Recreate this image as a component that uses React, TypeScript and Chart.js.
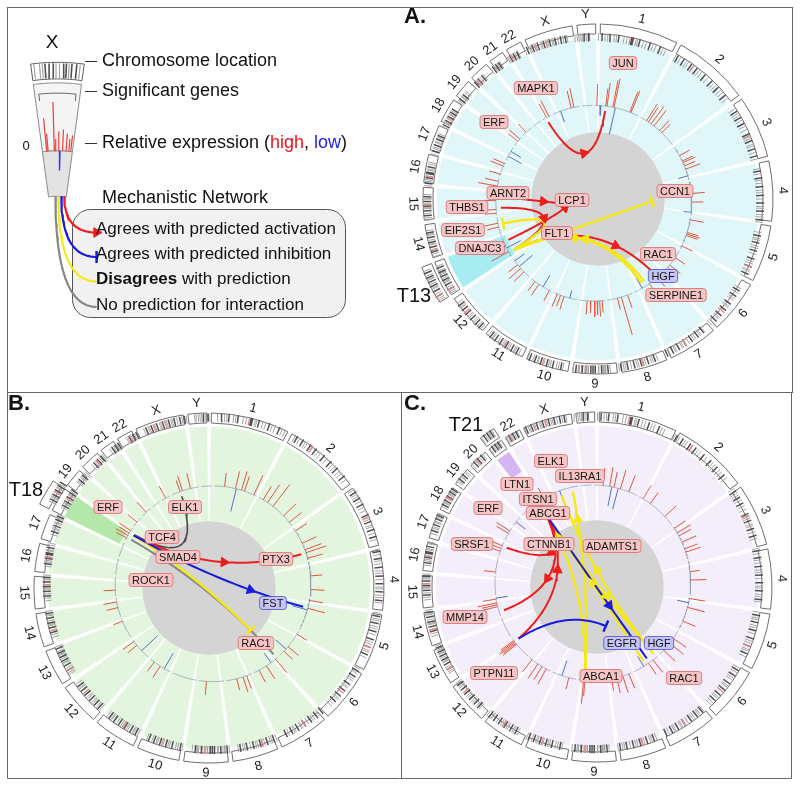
import React, { useEffect, useRef } from "react";
import { Chart, registerables } from "chart.js";

Chart.register(...registerables);

/* ======================= DATA ======================= */
const CHROMOSOMES = ["1","2","3","4","5","6","7","8","9","10","11","12","13","14","15","16","17","18","19","20","21","22","X","Y"];
const CHROM_LENGTHS = [249,243,198,191,181,171,159,146,141,136,135,134,115,107,103,90,81,78,59,63,48,51,155,59];
const CHROM_GAP = 15;

const DARK_BANDS: number[][] = [
  [0.08,0.18,0.3,0.47,0.49,0.58,0.72,0.86],
  [0.06,0.15,0.27,0.36,0.5,0.62,0.74,0.88],
  [0.1,0.22,0.33,0.52,0.64,0.78,0.9],
  [0.08,0.2,0.35,0.5,0.63,0.77,0.92],
  [0.12,0.25,0.4,0.55,0.7,0.84],
  [0.1,0.22,0.4,0.55,0.68,0.82],
  [0.06,0.2,0.35,0.5,0.66,0.8,0.93],
  [0.12,0.28,0.44,0.6,0.75,0.9],
  [0.1,0.25,0.4,0.45,0.5,0.7,0.85],
  [0.1,0.3,0.45,0.6,0.75,0.88],
  [0.12,0.26,0.42,0.58,0.72,0.86],
  [0.1,0.22,0.38,0.55,0.68,0.82],
  [0.2,0.35,0.5,0.62,0.75,0.88],
  [0.25,0.4,0.55,0.7,0.85],
  [0.25,0.4,0.55,0.7,0.85],
  [0.15,0.35,0.5,0.55,0.75],
  [0.2,0.45,0.7,0.85],
  [0.15,0.35,0.55,0.75,0.9],
  [0.3,0.6],
  [0.25,0.5,0.75],
  [0.3,0.55,0.8],
  [0.35,0.6,0.85],
  [0.08,0.2,0.32,0.45,0.58,0.7,0.82,0.92],
  [0.6,0.85],
];
const GRAY_BANDS: number[][] = [
  [0.03,0.12,0.15,0.24,0.27,0.37,0.41,0.53,0.55,0.63,0.67,0.76,0.8,0.9,0.94],
  [0.03,0.1,0.19,0.22,0.31,0.4,0.44,0.55,0.66,0.7,0.79,0.83,0.93],
  [0.05,0.14,0.18,0.27,0.38,0.44,0.57,0.6,0.7,0.73,0.84,0.95],
  [0.04,0.13,0.24,0.29,0.41,0.45,0.56,0.69,0.72,0.83,0.87,0.96],
  [0.06,0.17,0.2,0.31,0.35,0.46,0.6,0.64,0.76,0.79,0.9],
  [0.05,0.15,0.27,0.31,0.45,0.48,0.6,0.73,0.76,0.88,0.93],
  [0.03,0.12,0.15,0.26,0.3,0.42,0.56,0.59,0.72,0.75,0.87],
  [0.06,0.17,0.21,0.34,0.38,0.5,0.54,0.67,0.8,0.84,0.95],
  [0.05,0.16,0.2,0.32,0.56,0.6,0.64,0.77,0.8,0.92],
  [0.05,0.16,0.21,0.36,0.4,0.52,0.66,0.69,0.8,0.93],
  [0.06,0.17,0.2,0.33,0.37,0.48,0.52,0.64,0.78,0.81,0.92],
  [0.05,0.15,0.27,0.31,0.44,0.48,0.6,0.74,0.77,0.89],
  [0.08,0.13,0.27,0.42,0.45,0.56,0.68,0.71,0.8,0.94],
  [0.1,0.18,0.32,0.47,0.5,0.62,0.77,0.8,0.92],
  [0.1,0.18,0.32,0.47,0.5,0.62,0.77,0.8,0.92],
  [0.06,0.22,0.28,0.42,0.63,0.67,0.85,0.92],
  [0.08,0.3,0.36,0.55,0.6,0.78,0.93],
  [0.06,0.24,0.28,0.45,0.64,0.68,0.82],
  [0.12,0.2,0.45,0.5,0.75,0.85],
  [0.1,0.35,0.4,0.62,0.85],
  [0.12,0.42,0.65,0.7,0.9],
  [0.15,0.25,0.48,0.72,0.93],
  [0.03,0.13,0.16,0.25,0.28,0.38,0.41,0.51,0.54,0.63,0.66,0.76,0.87,0.96],
  [0.1,0.2,0.3,0.4,0.5,0.7,0.8,0.9],
];
const MARK_BANDS: number[][] = [
  [0.45],[0.3],[0.55],[],[0.7],[0.6],[0.5],[0.4],[0.62],[0.55],[0.45],[0.6],
  [0.2],[0.3],[0.6],[0.4],[],[0.5],[],[0.45],[],[0.4],[0.25,0.5],[],
];

const GENE_LOCI: Record<string, [string, number]> = {
  JUN: ["1", 0.24], MAPK1: ["22", 0.43], ERF: ["19", 0.72], ARNT2: ["15", 0.78], LCP1: ["13", 0.4],
  CCN1: ["1", 0.34], THBS1: ["15", 0.38], EIF2S1: ["14", 0.63], FLT1: ["13", 0.25], DNAJC3: ["13", 0.83],
  RAC1: ["7", 0.04], HGF: ["7", 0.51], SERPINE1: ["7", 0.63], ELK1: ["X", 0.31], TCF4: ["18", 0.68],
  SMAD4: ["18", 0.62], ROCK1: ["18", 0.24], PTX3: ["3", 0.79], FST: ["5", 0.29], IL13RA1: ["X", 0.76],
  LTN1: ["21", 0.62], ITSN1: ["21", 0.73], ABCG1: ["21", 0.91], ADAMTS1: ["21", 0.59], SRSF1: ["17", 0.69],
  CTNNB1: ["3", 0.21], MMP14: ["14", 0.22], PTPN11: ["12", 0.84], EGFR: ["7", 0.35], ABCA1: ["9", 0.76],
};
const LOW_GENES = ["HGF", "FST", "EGFR"];

type Bar = [string, number, number];
const BARS_A: Bar[] = [
  ["1",0.04,0.55],["1",0.24,0.45],["1",0.27,0.6],["1",0.4,0.7],["1",0.43,0.75],["1",0.8,0.55],["1",0.83,0.6],["1",0.13,-0.25],["1",0.46,-0.7],
  ["2",0.17,0.5],["2",0.22,0.45],["2",0.3,0.55],["2",0.38,0.5],["2",0.55,0.35],["2",0.62,0.3],
  ["3",0.28,0.3],["3",0.45,0.3],["3",0.5,0.35],["3",0.6,0.3],["3",0.7,0.4],["3",0.9,-0.25],
  ["4",0.35,0.35],["4",0.6,0.3],["4",0.9,-0.2],
  ["5",0.05,0.35],["5",0.45,0.3],["5",0.5,0.35],["5",0.55,0.3],["5",0.9,0.3],
  ["6",0.25,0.3],["6",0.55,0.35],["6",0.65,0.3],["6",0.9,0.35],
  ["7",0.05,0.3],["7",0.4,0.35],["7",0.7,-0.3],
  ["8",0.2,0.35],["8",0.45,1.0],["8",0.6,0.3],
  ["9",0.1,0.3],["9",0.2,0.4],["9",0.3,0.35],["9",0.4,0.4],["9",0.55,0.3],["9",0.7,0.35],
  ["10",0.55,0.35],["10",0.7,0.3],["10",0.85,0.35],["10",0.3,-0.2],
  ["11",0.1,0.3],["11",0.6,0.35],["11",0.8,0.3],["11",0.4,-0.35],
  ["12",0.3,0.35],["12",0.5,0.4],["12",0.7,0.3],["12",0.6,-0.45],["12",0.9,-0.3],
  ["13",0.3,0.5],["13",0.6,0.45],["13",0.8,0.75],["13",0.85,0.6],["13",0.5,-0.4],
  ["14",0.5,0.3],["14",0.7,0.35],
  ["15",0.1,0.3],["15",0.3,1.0],["15",0.78,0.3],
  ["16",0.5,0.5],["16",0.8,0.35],
  ["17",0.1,0.3],["17",0.7,0.35],["17",0.9,0.3],
  ["18",0.3,-0.4],["18",0.7,-0.3],
  ["19",0.5,0.3],["19",0.8,0.35],
  ["20",0.4,0.3],
  ["22",0.5,0.4],["22",0.8,0.45],
  ["X",0.7,0.45],["X",0.8,0.5],["X",0.3,-0.3],
];
const BARS_B: Bar[] = [
  ["1",0.23,0.35],["1",0.48,0.45],["1",0.62,0.5],["1",0.69,0.4],["1",0.92,0.55],["1",0.5,-0.6],
  ["2",0.1,0.4],["2",0.22,0.55],["2",0.37,0.7],["2",0.7,0.45],["2",0.9,0.4],
  ["3",0.1,0.35],["3",0.5,0.4],["3",0.7,0.45],["3",0.79,0.55],["3",0.95,0.4],
  ["4",0.4,0.3],["4",0.8,0.35],
  ["5",0.05,0.35],["5",0.3,0.45],["5",0.35,-0.4],
  ["6",0.1,0.3],["6",0.6,0.35],["6",0.8,0.3],["6",0.7,-0.35],
  ["7",0.1,0.45],["7",0.5,0.4],["7",0.8,0.35],["7",0.3,-0.3],
  ["8",0.2,0.35],["8",0.35,0.4],["8",0.6,0.3],
  ["9",0.7,0.35],
  ["11",0.5,0.35],["11",0.8,0.3],["11",0.3,-0.45],
  ["12",0.7,0.3],["12",0.9,0.35],["12",0.4,-0.55],
  ["13",0.9,0.25],
  ["14",0.5,0.3],["14",0.8,0.35],
  ["15",0.3,0.3],
  ["18",0.2,0.3],["18",0.4,0.35],["18",0.6,0.3],["18",0.8,0.35],
  ["19",0.5,0.3],["20",0.5,0.35],["22",0.5,0.35],
  ["X",0.4,0.4],["X",0.7,0.4],["X",0.31,0.3],
];
const BARS_C: Bar[] = [
  ["1",0.2,0.45],["1",0.35,0.5],["1",0.45,0.4],["1",0.6,0.5],["1",0.8,0.45],["1",0.4,-0.5],["1",0.55,-0.55],
  ["2",0.1,0.4],["2",0.3,0.35],["2",0.75,0.4],
  ["3",0.05,0.35],["3",0.2,0.4],["3",0.3,0.35],["3",0.5,0.4],["3",0.7,0.35],["3",0.8,0.4],
  ["4",0.55,0.4],["4",0.3,0.25],
  ["5",0.02,0.4],["5",0.3,0.45],["5",0.75,0.35],["5",0.15,-0.3],
  ["6",0.3,0.4],["6",0.5,0.45],["6",0.8,0.4],
  ["7",0.2,0.4],["7",0.4,0.35],["7",0.6,-0.3],
  ["8",0.1,0.4],["8",0.35,0.45],["8",0.6,0.4],["8",0.8,0.3],
  ["9",0.8,0.6],["9",0.75,0.4],
  ["10",0.6,-0.4],["10",0.3,0.3],
  ["11",0.2,0.45],["11",0.4,0.4],["11",0.6,0.45],["11",0.9,0.4],
  ["12",0.7,0.45],["12",0.75,0.4],["12",0.8,0.5],["12",0.85,0.45],["12",0.9,0.4],
  ["14",0.5,0.45],["14",0.6,0.4],["14",0.7,0.5],["14",0.9,0.35],["14",0.95,-0.3],
  ["16",0.1,0.3],
  ["17",0.3,0.35],["17",0.5,0.3],["17",0.7,0.4],
  ["18",0.5,0.35],["18",0.7,0.4],["19",0.4,-0.3],
  ["21",0.5,0.35],["22",0.3,0.3],
  ["X",0.3,-0.35],
];

// [from, to, colour, head, arrow position t, end t, bezier pull]
type Edge = [string, string, string, string, number, number, number];
const EDGES_A: Edge[] = [
  ["MAPK1","JUN","red","arrow",0.5,1,0.15],
  ["ARNT2@","LCP1@","red","arrow",0.6,1,1],
  ["DNAJC3","LCP1@","red","arrow",0.85,1,0.6],
  ["THBS1","FLT1","red","arrow",0.5,1,0.15],
  ["FLT1","RAC1","red","arrow",0.7,1,0.15],
  ["FLT1","CCN1@","yellow","bar",0,0.89,1],
  ["FLT1","EIF2S1","yellow","bar",0,1,0.15],
  ["HGF","FLT1","yellow","arrow",0.5,1,0.15],
  ["SERPINE1","FLT1","yellow","arrow",0.58,1,0.15],
];
const EDGES_B: Edge[] = [
  ["ELK1","TCF4","dark","none",0,1,0.15],
  ["ROCK1","RAC1","gray","none",0,1,0.15],
  ["SMAD4","RAC1","yellow","bar",0,0.82,0.15],
  ["SMAD4","PTX3","red","arrow",0.55,1,0.15],
  ["SMAD4","FST","blue","arrow",0.7,1,0.15],
];
const EDGES_C: Edge[] = [
  ["ABCA1","IL13RA1","yellow","arrow",0.85,1,0.15],
  ["RAC1","ELK1","yellow","arrow",0.55,1,0.15],
  ["HGF","ITSN1","yellow","arrow",0.5,1,0.15],
  ["ABCA1","ABCG1","yellow","arrow",0.8,1,0.15],
  ["ADAMTS1","RAC1","yellow","arrow",0.6,1,0.15],
  ["ABCG1","SRSF1","red","arrow",0.55,1,0.15],
  ["ABCG1","MMP14","red","arrow",0.6,1,0.15],
  ["PTPN11","ABCG1","red","arrow",0.55,1,0.15],
  ["PTPN11","EGFR","blue","bar",0,0.65,0.15],
  ["ITSN1","EGFR","blue","arrow",0.65,1,0.15],
];

const LEGEND_CHROM = "X";
const LEGEND_BARS: [number, number][] = [
  [-5.5,0.85],[-4.8,0.45],[-1.6,1.25],[-0.8,0.3],[0.6,0.5],[2.6,0.55],[4.4,0.45],[5.8,0.32],[6.8,0.42],[1.3,-0.5],
];
const LEGEND_DARK_BANDS = [-3.6,-2.4,-1.2,1.8,2.6,4.2,5.6];
const LEGEND_GRAY_BANDS = [-6.8,-5.2,-4.4,-0.4,0.6,3.4,6.6];
const LEGEND_TRACKS = ["Chromosome location", "Significant genes", "Relative expression ("];
const LEGEND_ROWS = ["Agrees with predicted activation", "Agrees with predicted inhibition", "Disagrees", "No prediction for interaction"];
const LEGEND_ROW_COLORS = ["red", "blue", "yellow", "gray"];
const LEGEND_ROW_HEADS = ["arrow", "bar", "none", "none"];

/* ======================= LAYOUT & STYLE ======================= */
const R = { extraOut: 189, extraIn: 178.5, ideoOut: 175, ideoIn: 165, ringOut: 161, base: 100, core: 67, anchor: 95, label: 185, barScale: 40 };
const FONT = '"Liberation Sans", Arial, Helvetica, sans-serif';
const COL = {
  ideoEdge: "#5e5e5e", core: "#d4d4d4", base: "#8a9aac", barUp: "#e2553f", barDown: "#4f74c9",
  dark: "#505050", gray: "#a4a4a4", mark: "#e98585",
};
const EDGE_STYLE: Record<string, { c: string; w: number }> = {
  red: { c: "#ee1c1c", w: 2 }, blue: { c: "#1b1be0", w: 2 }, yellow: { c: "#f5e81a", w: 2.4 },
  gray: { c: "#888888", w: 2 }, dark: { c: "#4a4a4a", w: 1.6 },
};

const LABELS_A: Record<string, [number, number]> = {
  JUN: [25, -136], MAPK1: [-62, -111], ERF: [-104, -77], ARNT2: [-90, -6], LCP1: [-26, 1], CCN1: [77, -8],
  THBS1: [-131, 8], EIF2S1: [-135, 31], FLT1: [-41, 34], DNAJC3: [-118, 49], RAC1: [60, 55], HGF: [65, 77], SERPINE1: [78, 96],
};
const LABELS_B: Record<string, [number, number]> = {
  ERF: [-101, -81], ELK1: [-24, -81], TCF4: [-47, -51], SMAD4: [-31, -31], PTX3: [67, -29], ROCK1: [-58, -8], FST: [64, 15], RAC1: [47, 55],
};
const LABELS_C: Record<string, [number, number]> = {
  ELK1: [-46, -126], IL13RA1: [-17, -111], LTN1: [-80, -103], ITSN1: [-59, -88], ERF: [-109, -79], ABCG1: [-49, -74],
  SRSF1: [-125, -43], CTNNB1: [-48, -43], ADAMTS1: [15, -41], MMP14: [-132, 30], EGFR: [25, 56], HGF: [62, 56],
  PTPN11: [-103, 86], ABCA1: [4, 89], RAC1: [87, 91],
};

const PANELS = [
  { key: "A", cx: 598, cy: 199, ring: "#e0f6f8", hi: "#a6ecf0", hiInner: 100, tri: "13", triLabel: "T13", triPos: [414, 296], letter: "A.", letterPos: [404, 17], bars: BARS_A, edges: EDGES_A, labels: LABELS_A },
  { key: "B", cx: 209, cy: 588, ring: "#e3f5df", hi: "#b3e8aa", hiInner: 100, tri: "18", triLabel: "T18", triPos: [26, 490], letter: "B.", letterPos: [8, 404], bars: BARS_B, edges: EDGES_B, labels: LABELS_B },
  { key: "C", cx: 597, cy: 587, ring: "#f4edfa", hi: "#d4b6f3", hiInner: 138, tri: "21", triLabel: "T21", triPos: [466, 425], letter: "C.", letterPos: [404, 404], bars: BARS_C, edges: EDGES_C, labels: LABELS_C },
];
type Panel = typeof PANELS[number];

const LEG = { ax: 50, ay: 259.5, half: 7.7, ideoIn: 187.5, ideoOut: 204.5, topOut: 183.5, base: 114, topIn: 67.5 };
const LEG_ROW_Y = [229, 254, 279, 305];
const LEG_ROW_X0 = [57, 54, 51, 48];

/* ======================= GEOMETRY ======================= */
const TOTAL = CHROM_LENGTHS.reduce((a, b) => a + b, 0) + CHROM_GAP * CHROMOSOMES.length;
const STARTS: number[] = [];
{
  let s = 0;
  for (const L of CHROM_LENGTHS) { STARTS.push(s); s += L + CHROM_GAP; }
}
const ROT_DEG = (CHROM_GAP / 2) / TOTAL * 360;
const angleOf = (c: string, f: number) => {
  const i = CHROMOSOMES.indexOf(c);
  return ROT_DEG + (STARTS[i] + f * CHROM_LENGTHS[i]) / TOTAL * 360;
};
const polar = (cx: number, cy: number, deg: number, r: number) => {
  const a = (deg * Math.PI) / 180;
  return { x: cx + r * Math.sin(a), y: cy - r * Math.cos(a) };
};
const BREAK = { x: NaN, y: NaN };
type Pt = { x: number; y: number };

function lineDS(points: Pt[], color: string, width: number, extra: any = {}) {
  return { data: points, showLine: true, borderColor: color, backgroundColor: color, borderWidth: width, pointRadius: 0, fill: false, ...extra };
}

/* ======================= RING (doughnut) ======================= */
function ringDatasets(p: Panel) {
  const data: number[] = [];
  CHROM_LENGTHS.forEach((L) => data.push(L, CHROM_GAP));
  const triIdx = CHROMOSOMES.indexOf(p.tri);
  const layers = [
    { w: R.extraOut - R.extraIn, kind: "extra", hi: false },
    { w: R.extraIn - R.ideoOut, kind: "none", hi: false },
    { w: R.ideoOut - R.ideoIn, kind: "ideo", hi: false },
    { w: R.ideoIn - R.ringOut, kind: "none", hi: false },
    { w: R.ringOut - p.hiInner, kind: "ring", hi: true },
    { w: p.hiInner - R.base, kind: "ring", hi: false },
    { w: R.base - R.core, kind: "ring", hi: false },
    { w: R.core, kind: "core", hi: false },
  ].filter((l) => l.w > 0);
  const clear = "rgba(0,0,0,0)";
  return layers.map((l) => {
    if (l.kind === "core") {
      return { data: [1], weight: l.w, backgroundColor: [COL.core], borderColor: [COL.core], borderWidth: [0], hoverOffset: 0 };
    }
    const bg: string[] = [], bc: string[] = [], bw: number[] = [];
    for (let i = 0; i < CHROMOSOMES.length; i++) {
      let fill = clear, stroke = clear, w = 0;
      if ((l.kind === "extra" && i === triIdx) || l.kind === "ideo") { fill = "#ffffff"; stroke = COL.ideoEdge; w = 0.9; }
      if (l.kind === "ring") { fill = l.hi && i === triIdx ? p.hi : p.ring; stroke = fill; w = 0.5; }
      bg.push(fill); bc.push(stroke); bw.push(w);
      bg.push(clear); bc.push(clear); bw.push(0);
    }
    return { data, weight: l.w, backgroundColor: bg, borderColor: bc, borderWidth: bw, hoverOffset: 0 };
  });
}

function RingCanvas({ panel }: { panel: Panel }) {
  const ref = useRef<HTMLCanvasElement>(null);
  useEffect(() => {
    const chart = new Chart(ref.current as HTMLCanvasElement, {
      type: "doughnut",
      data: { labels: CHROMOSOMES.flatMap((c) => [c, ""]), datasets: ringDatasets(panel) as any },
      options: {
        animation: false, responsive: false, devicePixelRatio: 1, events: [],
        radius: R.extraOut, cutout: 0, rotation: ROT_DEG,
        layout: { padding: 0 },
        plugins: { legend: { display: false }, tooltip: { enabled: false } },
      } as any,
    });
    return () => chart.destroy();
  }, []);
  return (
    <canvas ref={ref} width={400} height={400}
      style={{ position: "absolute", left: panel.cx - 200, top: panel.cy - 200, width: 400, height: 400 }} />
  );
}

/* ======================= OVERLAY (scatter) ======================= */
function bezier(P0: Pt, C: Pt, P1: Pt, t: number): Pt {
  const u = 1 - t;
  return { x: u * u * P0.x + 2 * u * t * C.x + t * t * P1.x, y: u * u * P0.y + 2 * u * t * C.y + t * t * P1.y };
}
function bezierDir(P0: Pt, C: Pt, P1: Pt, t: number) {
  const dx = 2 * (1 - t) * (C.x - P0.x) + 2 * t * (P1.x - C.x);
  const dy = 2 * (1 - t) * (C.y - P0.y) + 2 * t * (P1.y - C.y);
  return (Math.atan2(dx, -dy) * 180) / Math.PI;
}
function anchor(p: Panel, name: string): Pt {
  if (name.endsWith("@")) {
    const o = (p.labels as any)[name.slice(0, -1)];
    return { x: p.cx + o[0], y: p.cy + o[1] };
  }
  const [c, f] = GENE_LOCI[name];
  return polar(p.cx, p.cy, angleOf(c, f), R.anchor);
}
function headDS(pt: Pt, rot: number, color: string, kind: string) {
  if (kind === "arrow") {
    return { data: [pt], showLine: false, pointStyle: "triangle", pointRadius: 5.5, pointRotation: rot,
      pointBackgroundColor: color, pointBorderColor: color, pointBorderWidth: 1 };
  }
  return { data: [pt], showLine: false, pointStyle: "line", pointRadius: 6, pointRotation: rot,
    pointBackgroundColor: color, pointBorderColor: color, pointBorderWidth: 2.5 };
}

function buildOverlay() {
  const ds: any[] = [];

  /* legend fan */
  const lp = (deg: number, r: number) => polar(LEG.ax, LEG.ay, deg, r);
  const sector = (r0: number, r1: number) => {
    const pts: Pt[] = [];
    for (let a = -LEG.half; a <= LEG.half + 1e-6; a += LEG.half / 8) pts.push(lp(a, r1));
    for (let a = LEG.half; a >= -LEG.half - 1e-6; a -= LEG.half / 8) pts.push(lp(a, r0));
    pts.push(pts[0]);
    return pts;
  };
  ds.push(lineDS(sector(LEG.base, LEG.topOut), "#8a8a8a", 1, { fill: "shape", backgroundColor: "#f4f4f4" }));
  ds.push(lineDS(sector(LEG.topIn, LEG.base), "#8a8a8a", 1, { fill: "shape", backgroundColor: "#e3e3e3" }));
  ds.push(lineDS(sector(LEG.ideoIn, LEG.ideoOut), COL.ideoEdge, 1, { fill: "shape", backgroundColor: "#ffffff" }));
  const legBand = (list: number[]) => list.flatMap((a) => [lp(a, LEG.ideoIn + 1), lp(a, LEG.ideoOut - 1), BREAK]);
  ds.push(lineDS(legBand(LEGEND_GRAY_BANDS), COL.gray, 1.2));
  ds.push(lineDS(legBand(LEGEND_DARK_BANDS), COL.dark, 1.6));
  const bracket: Pt[] = [lp(-6.3, 166), lp(-6.3, 173)];
  for (let a = -6.3; a <= 6.31; a += 0.9) bracket.push(lp(a, 173));
  bracket.push(lp(6.3, 166));
  ds.push(lineDS(bracket, "#666666", 1));
  const legUp = LEGEND_BARS.filter((b) => b[1] > 0).flatMap(([a, v]) => [lp(a, LEG.base), lp(a, LEG.base + v * R.barScale), BREAK]);
  const legDown = LEGEND_BARS.filter((b) => b[1] < 0).flatMap(([a, v]) => [lp(a, LEG.base), lp(a, LEG.base + v * R.barScale), BREAK]);
  ds.push(lineDS(legUp, "#e8403a", 1.2));
  ds.push(lineDS(legDown, "#3a3ad8", 1.4));
  LEGEND_ROWS.forEach((_, i) => {
    const st = EDGE_STYLE[LEGEND_ROW_COLORS[i]];
    const P0 = { x: LEG_ROW_X0[i], y: 192 }, C = { x: LEG_ROW_X0[i], y: LEG_ROW_Y[i] }, P1 = { x: 90, y: LEG_ROW_Y[i] };
    const pts: Pt[] = [];
    for (let s = 0; s <= 30; s++) pts.push(bezier(P0, C, P1, s / 30));
    ds.push(lineDS(pts, st.c, 2.2));
    if (LEGEND_ROW_HEADS[i] !== "none") ds.push(headDS(P1, 90, st.c, LEGEND_ROW_HEADS[i]));
  });

  /* circos panels */
  for (const p of PANELS) {
    const triIdx = CHROMOSOMES.indexOf(p.tri);
    const bandPts = (lists: number[][]) => {
      const pts: Pt[] = [];
      CHROMOSOMES.forEach((c, i) => {
        const rings: [number, number][] = [[R.ideoIn + 0.9, R.ideoOut - 0.9]];
        if (i === triIdx) rings.push([R.extraIn + 0.9, R.extraOut - 0.9]);
        for (const f of lists[i]) {
          const a = angleOf(c, f);
          for (const [r0, r1] of rings) pts.push(polar(p.cx, p.cy, a, r0), polar(p.cx, p.cy, a, r1), BREAK);
        }
      });
      return pts;
    };
    ds.push(lineDS(bandPts(GRAY_BANDS), COL.gray, 1));
    ds.push(lineDS(bandPts(DARK_BANDS), COL.dark, 1.5));
    ds.push(lineDS(bandPts(MARK_BANDS), COL.mark, 1.2));

    const basePts: Pt[] = [];
    CHROMOSOMES.forEach((c) => {
      const a0 = angleOf(c, 0), a1 = angleOf(c, 1);
      const n = Math.max(2, Math.ceil(a1 - a0));
      for (let k = 0; k <= n; k++) basePts.push(polar(p.cx, p.cy, a0 + ((a1 - a0) * k) / n, R.base));
      basePts.push(BREAK);
    });
    ds.push(lineDS(basePts, COL.base, 0.7));

    const up: Pt[] = [], down: Pt[] = [];
    for (const [c, f, v] of p.bars) {
      const a = angleOf(c, f);
      const seg = [polar(p.cx, p.cy, a, R.base), polar(p.cx, p.cy, a, R.base + v * R.barScale), BREAK];
      (v > 0 ? up : down).push(...seg);
    }
    ds.push(lineDS(up, COL.barUp, 1));
    ds.push(lineDS(down, COL.barDown, 1));

    const heads: any[] = [];
    for (const [from, to, col, head, at, tEnd, k] of p.edges) {
      const st = EDGE_STYLE[col];
      const P0 = anchor(p, from), P1 = anchor(p, to);
      const M = { x: (P0.x + P1.x) / 2, y: (P0.y + P1.y) / 2 };
      const C = { x: p.cx + k * (M.x - p.cx), y: p.cy + k * (M.y - p.cy) };
      const pts: Pt[] = [];
      for (let s = 0; s <= 40; s++) pts.push(bezier(P0, C, P1, (tEnd * s) / 40));
      ds.push(lineDS(pts, st.c, st.w));
      if (head === "arrow") heads.push(headDS(bezier(P0, C, P1, at), bezierDir(P0, C, P1, at), st.c, "arrow"));
      if (head === "bar") heads.push(headDS(bezier(P0, C, P1, tEnd), bezierDir(P0, C, P1, tEnd), st.c, "bar"));
    }
    ds.push(...heads);
  }
  const n = ds.length;
  ds.forEach((d, i) => { d.order = n - i; });
  return ds;
}

const annotations = {
  id: "annotations",
  beforeDatasetsDraw(chart: any) {
    const ctx: CanvasRenderingContext2D = chart.ctx;
    ctx.save();
    ctx.beginPath();
    ctx.roundRect(72.5, 209.5, 273, 108, 18);
    ctx.fillStyle = "#f1f1f1";
    ctx.fill();
    ctx.strokeStyle = "#555555";
    ctx.lineWidth = 1;
    ctx.stroke();
    ctx.restore();
  },
  afterDatasetsDraw(chart: any) {
    const ctx: CanvasRenderingContext2D = chart.ctx;
    ctx.save();
    ctx.textBaseline = "middle";

    for (const p of PANELS) {
      ctx.fillStyle = "#222222";
      ctx.font = `13px ${FONT}`;
      ctx.textAlign = "center";
      CHROMOSOMES.forEach((c) => {
        if (c === p.tri) return;
        const a = angleOf(c, 0.5);
        const pt = polar(p.cx, p.cy, a, R.label);
        const rot = a > 90 && a < 270 ? a - 180 : a;
        ctx.save();
        ctx.translate(pt.x, pt.y);
        ctx.rotate((rot * Math.PI) / 180);
        ctx.fillText(c, 0, 0);
        ctx.restore();
      });
      ctx.font = `20px ${FONT}`;
      ctx.fillStyle = "#111111";
      ctx.fillText(p.triLabel, p.triPos[0], p.triPos[1]);
      ctx.textAlign = "left";
      ctx.font = `bold 22px ${FONT}`;
      ctx.fillText(p.letter, p.letterPos[0], p.letterPos[1]);

      ctx.font = `11px ${FONT}`;
      ctx.textAlign = "center";
      for (const [g, o] of Object.entries(p.labels)) {
        const x = p.cx + o[0], y = p.cy + o[1];
        const w = ctx.measureText(g).width + 6, h = 13;
        const low = LOW_GENES.includes(g);
        ctx.beginPath();
        ctx.roundRect(x - w / 2, y - h / 2, w, h, 3);
        ctx.fillStyle = low ? "#c4c4f6" : "#f7c5c5";
        ctx.fill();
        ctx.strokeStyle = low ? "#4b4bd6" : "#d66a6a";
        ctx.lineWidth = 0.8;
        ctx.stroke();
        ctx.fillStyle = "#151515";
        ctx.fillText(g, x, y + 0.5);
      }
    }

    ctx.fillStyle = "#111111";
    ctx.textAlign = "center";
    ctx.font = `19px ${FONT}`;
    ctx.fillText(LEGEND_CHROM, 52, 43);
    ctx.font = `13px ${FONT}`;
    ctx.fillText("0", 26, 146);
    ctx.strokeStyle = "#333333";
    ctx.lineWidth = 1;
    [61, 91, 143].forEach((y) => {
      ctx.beginPath(); ctx.moveTo(85, y + 0.5); ctx.lineTo(97, y + 0.5); ctx.stroke();
    });
    ctx.textAlign = "left";
    ctx.font = `18px ${FONT}`;
    ctx.fillText(LEGEND_TRACKS[0], 102, 61);
    ctx.fillText(LEGEND_TRACKS[1], 102, 91);
    let x = 102;
    const parts: [string, string][] = [[LEGEND_TRACKS[2], "#111111"], ["high", "#e8161b"], [", ", "#111111"], ["low", "#1f1fe0"], [")", "#111111"]];
    for (const [t, c] of parts) { ctx.fillStyle = c; ctx.fillText(t, x, 143); x += ctx.measureText(t).width; }
    ctx.fillStyle = "#111111";
    ctx.fillText("Mechanistic Network", 102, 198);
    ctx.font = `17px ${FONT}`;
    LEGEND_ROWS.forEach((t, i) => {
      if (i === 2) {
        ctx.font = `bold 17px ${FONT}`;
        ctx.fillText(t, 96, LEG_ROW_Y[i]);
        const w = ctx.measureText(t).width;
        ctx.font = `17px ${FONT}`;
        ctx.fillText(" with prediction", 96 + w, LEG_ROW_Y[i]);
      } else {
        ctx.fillText(t, 96, LEG_ROW_Y[i]);
      }
    });

    ctx.strokeStyle = "#666666";
    ctx.lineWidth = 1;
    ctx.strokeRect(7.5, 7.5, 785, 385);
    ctx.beginPath();
    ctx.moveTo(7.5, 392.5); ctx.lineTo(7.5, 778.5); ctx.lineTo(791.5, 778.5); ctx.lineTo(791.5, 392.5);
    ctx.moveTo(401.5, 392.5); ctx.lineTo(401.5, 778.5);
    ctx.stroke();
    ctx.restore();
  },
};

function OverlayCanvas() {
  const ref = useRef<HTMLCanvasElement>(null);
  useEffect(() => {
    const chart = new Chart(ref.current as HTMLCanvasElement, {
      type: "scatter",
      data: { datasets: buildOverlay() },
      options: {
        animation: false, responsive: false, devicePixelRatio: 1, events: [],
        layout: { padding: 0 },
        scales: {
          x: { type: "linear", min: 0, max: 800, display: false },
          y: { type: "linear", min: 0, max: 786, reverse: true, display: false },
        },
        elements: { line: { tension: 0 } },
        plugins: { legend: { display: false }, tooltip: { enabled: false } },
      } as any,
      plugins: [annotations as any],
    });
    return () => chart.destroy();
  }, []);
  return <canvas ref={ref} width={800} height={786} style={{ position: "absolute", left: 0, top: 0, width: 800, height: 786 }} />;
}

export default function App() {
  return (
    <div style={{ position: "absolute", left: 0, top: 0, width: 800, height: 786, overflow: "hidden", background: "#ffffff" }}>
      {PANELS.map((p) => <RingCanvas key={p.key} panel={p} />)}
      <OverlayCanvas />
    </div>
  );
}
